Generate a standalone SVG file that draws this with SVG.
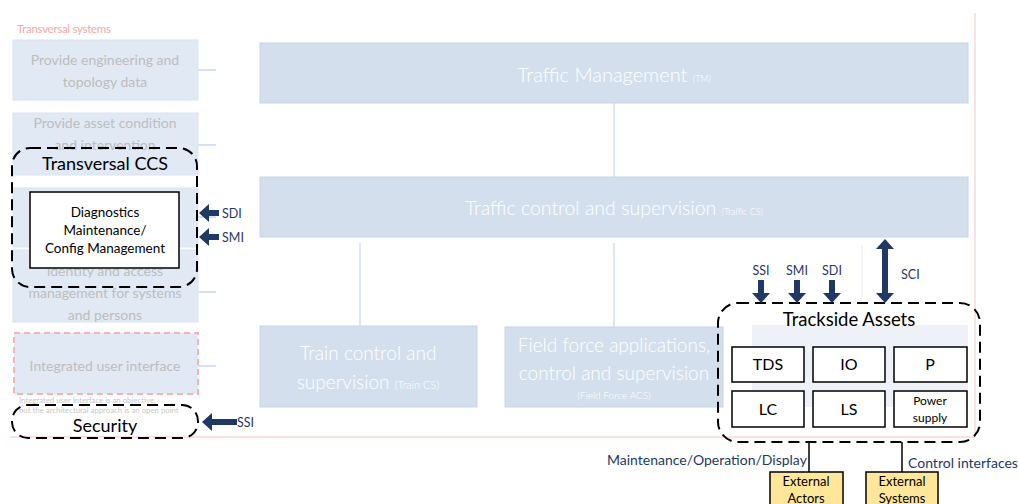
<svg xmlns="http://www.w3.org/2000/svg" width="1018" height="504" viewBox="0 0 1018 504">
<defs>
<style>
.bgL{fill:#e1e9f5;stroke:#d9e3f0;stroke-width:1}
.bgM{fill:#d3dfed;stroke:#c8d5e6;stroke-width:1}
.ft{font-family:Lato,"Liberation Sans",sans-serif;fill:#bdbdbd;font-size:14px;text-anchor:middle}
.wt{font-family:Lato,"Liberation Sans",sans-serif;fill:#ffffff;text-anchor:middle;font-weight:300}
.stub{stroke:#c8d8ee;stroke-width:1.5}
.pink{stroke:#f6c6c6;stroke-width:1;fill:none}
.dash{fill:none;stroke:#000;stroke-width:2;stroke-dasharray:11 6}
.box{fill:#fff;stroke:#000;stroke-width:1.5}
.lbl{font-family:Lato,"Liberation Sans",sans-serif;fill:#000;text-anchor:middle}
.if{font-family:Lato,"Liberation Sans",sans-serif;fill:#1f3864;font-size:12.5px}
.big{font-size:14px}
.arr{stroke:#1f3864;stroke-width:6;fill:none}
.ext{fill:#ffe699;stroke:#000;stroke-width:1.5}
.conn{stroke:#000;stroke-width:1.5}
.fl{stroke:#d3dfed;stroke-width:1.5}
.note{font-family:Lato,"Liberation Sans",sans-serif;font-size:7.8px;fill:#c8c8c8}
</style>
<marker id="ah" viewBox="0 0 10 18" refX="0" refY="9" markerUnits="userSpaceOnUse" markerWidth="10" markerHeight="18" orient="auto-start-reverse"><path d="M0,0 L10,9 L0,18 z" fill="#1f3864"/></marker>
</defs>

<g id="background">
  <line class="pink" x1="10" y1="437" x2="975" y2="437"/>
  <line class="pink" x1="975" y1="13" x2="975" y2="437"/>
  <text x="17" y="33" font-family="Lato,'Liberation Sans',sans-serif" font-size="11.5" fill="#f7a8a8" letter-spacing="-0.3">Transversal systems</text>
  <line class="stub" x1="198" y1="70" x2="216" y2="70"/>
  <line class="stub" x1="198" y1="145" x2="216" y2="145"/>
  <line class="stub" x1="198" y1="217" x2="216" y2="217"/>
  <line class="stub" x1="198" y1="292" x2="216" y2="292"/>
  <line class="stub" x1="198" y1="366" x2="216" y2="366"/>
  <line class="fl" x1="614" y1="103" x2="614" y2="177"/>
  <line class="fl" x1="360" y1="243" x2="360" y2="326"/>
  <line class="fl" x1="614" y1="243" x2="614" y2="327"/>
  <line x1="862" y1="245" x2="862" y2="300" stroke="#eef2f8" stroke-width="1.5"/>
</g>

<g id="provide-engineering">
  <rect class="bgL" x="13" y="40" width="185" height="60"/>
  <text class="ft" x="105" y="65">Provide engineering and</text>
  <text class="ft" x="105" y="87">topology data</text>
</g>
<g id="provide-asset">
  <rect class="bgL" x="13" y="113" width="185" height="62"/>
  <text class="ft" x="105" y="128">Provide asset condition</text>
  <text class="ft" x="105" y="150">and intervention</text>
</g>
<g id="provide-hidden">
  <rect class="bgL" x="13" y="188" width="185" height="59"/>
</g>
<g id="provide-identity">
  <rect class="bgL" x="13" y="250" width="185" height="72"/>
  <text class="ft" x="105" y="276">identity and access</text>
  <text class="ft" x="105" y="298">management for systems</text>
  <text class="ft" x="105" y="320">and persons</text>
</g>
<g id="integrated-ui">
  <rect x="14" y="333" width="184" height="61" fill="#e1e9f5" stroke="#f4b4b4" stroke-width="2" stroke-dasharray="6 4"/>
  <text class="ft" x="105" y="371">Integrated user interface</text>
  <text class="note" x="19" y="403">Integrated user Interface is an objective,</text>
  <text class="note" x="19" y="413">but the architectural approach is an open point</text>
</g>

<g id="traffic-management">
  <rect class="bgM" x="260" y="43" width="708" height="60"/>
  <text class="wt" x="614" y="82" font-size="20">Traffic Management <tspan font-size="9">(TM)</tspan></text>
</g>
<g id="traffic-cs">
  <rect class="bgM" x="260" y="177" width="708" height="60"/>
  <text class="wt" x="614" y="215" font-size="19.5">Traffic control and supervision <tspan font-size="9">(Traffic CS)</tspan></text>
</g>
<g id="train-cs">
  <rect class="bgM" x="260" y="326" width="217" height="81"/>
  <text class="wt" x="368" y="360" font-size="19">Train control and</text>
  <text class="wt" x="368" y="389" font-size="19">supervision <tspan font-size="11">(Train CS)</tspan></text>
</g>
<g id="field-force">
  <rect class="bgM" x="505" y="327" width="218" height="80"/>
  <text class="wt" x="614" y="352" font-size="19">Field force applications,</text>
  <text class="wt" x="614" y="380" font-size="19">control and supervision</text>
  <text class="wt" x="614" y="399" font-size="10">(Field Force ACS)</text>
</g>
<g id="trackside-bg">
  <rect x="752" y="325" width="216" height="82" fill="#eef2f8"/>
</g>

<g id="transversal-ccs">
  <rect class="dash" x="12" y="148" width="185" height="139" rx="18"/>
  <text class="lbl" x="105" y="170" font-size="18">Transversal CCS</text>
</g>
<g id="diagnostics">
  <rect class="box" x="30" y="192" width="149" height="76"/>
  <text class="lbl" x="105" y="217" font-size="13.5">Diagnostics</text>
  <text class="lbl" x="105" y="235" font-size="13.5">Maintenance/</text>
  <text class="lbl" x="105" y="253" font-size="13.5">Config Management</text>
</g>
<g id="security">
  <rect class="dash" x="12" y="405" width="186" height="33" rx="16"/>
  <text class="lbl" x="105" y="432" font-size="18">Security</text>
</g>

<g id="trackside-assets">
  <rect class="dash" x="718" y="303" width="262" height="139" rx="20"/>
  <text class="lbl" x="849" y="326" font-size="18.5">Trackside Assets</text>
</g>
<g id="tds"><rect class="box" x="732" y="347" width="72" height="35"/><text class="lbl" x="768" y="370" font-size="16">TDS</text></g>
<g id="io"><rect class="box" x="813" y="347" width="72" height="35"/><text class="lbl" x="849" y="370" font-size="16">IO</text></g>
<g id="p"><rect class="box" x="894" y="347" width="73" height="35"/><text class="lbl" x="930" y="370" font-size="16">P</text></g>
<g id="lc"><rect class="box" x="732" y="391" width="72" height="36"/><text class="lbl" x="768" y="415" font-size="16">LC</text></g>
<g id="ls"><rect class="box" x="813" y="391" width="72" height="36"/><text class="lbl" x="849" y="415" font-size="16">LS</text></g>
<g id="power-supply"><rect class="box" x="894" y="391" width="73" height="36"/><text class="lbl" x="930" y="405" font-size="12">Power</text><text class="lbl" x="930" y="422" font-size="12">supply</text></g>

<g id="external-actors"><rect class="ext" x="770" y="472" width="73" height="40"/><text class="lbl" x="806" y="486" font-size="13">External</text><text class="lbl" x="806" y="503" font-size="13">Actors</text></g>
<g id="external-systems"><rect class="ext" x="866" y="472" width="72" height="40"/><text class="lbl" x="902" y="486" font-size="13">External</text><text class="lbl" x="902" y="503" font-size="13">Systems</text></g>

<g id="connectors">
  <line class="arr" x1="219" y1="213" x2="209" y2="213" marker-end="url(#ah)"/>
  <text class="if" x="222" y="218">SDI</text>
  <line class="arr" x1="219" y1="237" x2="209" y2="237" marker-end="url(#ah)"/>
  <text class="if" x="222" y="242">SMI</text>
  <line class="arr" x1="237" y1="422" x2="212" y2="422" marker-end="url(#ah)"/>
  <text class="if" x="237" y="427">SSI</text>
  <line class="arr" x1="761" y1="280" x2="761" y2="293" marker-end="url(#ah)"/>
  <text class="if" x="761" y="275" text-anchor="middle">SSI</text>
  <line class="arr" x1="797" y1="280" x2="797" y2="293" marker-end="url(#ah)"/>
  <text class="if" x="797" y="275" text-anchor="middle">SMI</text>
  <line class="arr" x1="832" y1="280" x2="832" y2="293" marker-end="url(#ah)"/>
  <text class="if" x="832" y="275" text-anchor="middle">SDI</text>
  <line class="arr" x1="885" y1="249" x2="885" y2="293" marker-start="url(#ah)" marker-end="url(#ah)"/>
  <text class="if" x="901" y="279">SCI</text>
  <line class="conn" x1="809" y1="442" x2="809" y2="472"/>
  <line class="conn" x1="902" y1="442" x2="902" y2="472"/>
  <text class="if big" x="607" y="465">Maintenance/Operation/Display</text>
  <text class="if big" x="908" y="468">Control interfaces</text>
</g>
</svg>
